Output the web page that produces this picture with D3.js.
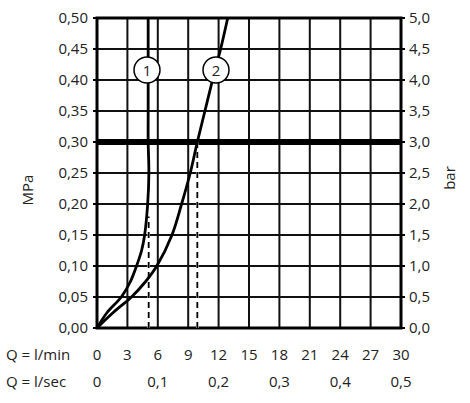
<!DOCTYPE html><html><head><meta charset="utf-8"><script src="https://d3js.org/d3.v7.min.js"></script>
<style>body{margin:0;background:#fff}text{font-family:"Open Sans",sans-serif;font-size:15px;fill:#222}</style></head><body>
<svg id="c" width="470" height="403"></svg>
<script>
const mpaTicks=[0,0.05,0.1,0.15,0.2,0.25,0.3,0.35,0.4,0.45,0.5];
const lminTicks=[0,3,6,9,12,15,18,21,24,27,30];
const lsecTicks=[0,0.1,0.2,0.3,0.4,0.5];
const curve1=[[0,0],[1.0,0.025],[2.4,0.05],[3.3,0.075],[3.9,0.1],[4.4,0.125],[4.7,0.15],[5.0,0.2],[5.12,0.25],[5.05,0.3],[5.05,0.35],[5.05,0.5]];
const curve2=[[0,0],[1.6,0.025],[3.4,0.05],[4.8,0.075],[5.9,0.1],[7.4,0.15],[8.35,0.2],[9.2,0.25],[9.9,0.3],[10.65,0.35],[11.4,0.4],[12.2,0.45],[12.9,0.5]];
const dashes=[[5.1,0.18],[9.9,0.3]];
const svg=d3.select("#c");
const x=d3.scaleLinear().domain([0,30]).range([97,401]);
const y=d3.scaleLinear().domain([0,0.5]).range([328,18]);
const g=svg.append("g");
lminTicks.forEach(t=>g.append("line").attr("x1",x(t)).attr("x2",x(t)).attr("y1",y(0)).attr("y2",y(0.5)).attr("stroke","#111").attr("stroke-width",2));
mpaTicks.forEach(t=>g.append("line").attr("x1",x(0)).attr("x2",x(30)).attr("y1",y(t)).attr("y2",y(t)).attr("stroke","#111").attr("stroke-width",2));
g.append("line").attr("x1",x(0)).attr("x2",x(30)).attr("y1",y(0.3)).attr("y2",y(0.3)).attr("stroke","#000").attr("stroke-width",6);
g.append("rect").attr("x",x(0)).attr("y",y(0.5)).attr("width",x(30)-x(0)).attr("height",y(0)-y(0.5)).attr("fill","none").attr("stroke","#000").attr("stroke-width",3);
mpaTicks.forEach(t=>{g.append("line").attr("x1",x(0)-4).attr("x2",x(0)).attr("y1",y(t)).attr("y2",y(t)).attr("stroke","#000").attr("stroke-width",2);
g.append("line").attr("x1",x(30)).attr("x2",x(30)+4).attr("y1",y(t)).attr("y2",y(t)).attr("stroke","#000").attr("stroke-width",2);});
dashes.forEach(d=>g.append("line").attr("x1",x(d[0])).attr("x2",x(d[0])).attr("y1",y(0)).attr("y2",y(d[1])).attr("stroke","#fff").attr("stroke-width",2.5));
dashes.forEach(d=>g.append("line").attr("x1",x(d[0])).attr("x2",x(d[0])).attr("y1",y(0)).attr("y2",y(d[1])).attr("stroke","#000").attr("stroke-width",1.8).attr("stroke-dasharray","6,4"));
const line=d3.line().x(d=>x(d[0])).y(d=>y(d[1])).curve(d3.curveCatmullRom.alpha(0.5));
[curve1,curve2].forEach(c=>g.append("path").attr("d",line(c)).attr("fill","none").attr("stroke","#000").attr("stroke-width",2.8));
[["1",147],["2",216]].forEach(([l,px])=>{g.append("circle").attr("cx",px).attr("cy",70).attr("r",13).attr("fill","#fff").attr("stroke","#000").attr("stroke-width",1.5);
g.append("text").attr("x",px).attr("y",76).attr("text-anchor","middle").attr("font-size",17).text(l);});
const fmt=v=>v.toFixed(2).replace(".",",");
mpaTicks.forEach(t=>{g.append("text").attr("x",88).attr("y",y(t)+5).attr("text-anchor","end").text(fmt(t));
g.append("text").attr("x",409).attr("y",y(t)+5).text((t*10).toFixed(1).replace(".",","));});
svg.append("text").attr("transform","translate(33,190) rotate(-90)").attr("text-anchor","middle").text("MPa");
svg.append("text").attr("transform","translate(455,178) rotate(-90)").attr("text-anchor","middle").text("bar");
svg.append("text").attr("x",6).attr("y",360).text("Q = l/min");
svg.append("text").attr("x",6).attr("y",387).text("Q = l/sec");
lminTicks.forEach(t=>svg.append("text").attr("x",x(t)).attr("y",360).attr("text-anchor","middle").text(t));
lsecTicks.forEach(t=>svg.append("text").attr("x",x(t*60)).attr("y",387).attr("text-anchor","middle").text(t===0?"0":t.toFixed(1).replace(".",",")));
</script></body></html>
